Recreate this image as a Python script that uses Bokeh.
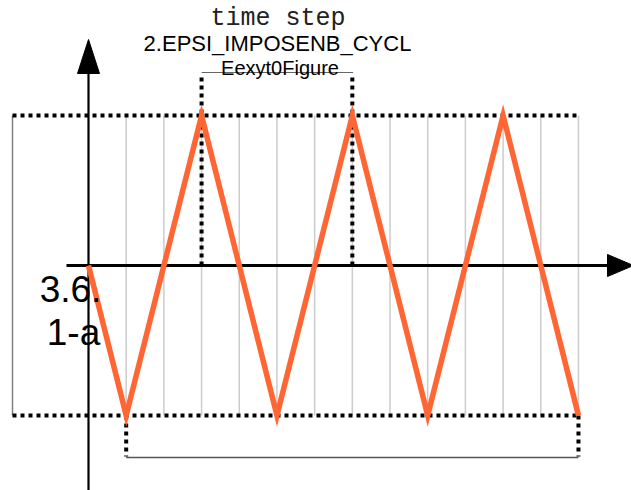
from bokeh.plotting import figure
from bokeh.models import Range1d
from bokeh.core.properties import value
from bokeh.embed import file_html
from bokeh.resources import INLINE

# ---- data ----
time_x = [0, 1, 3, 5, 7, 9, 11, 13]
strain = [0, -1, 1, -1, 1, -1, 1, -1]
grid_steps = list(range(1, 14))
title_lines = ["time step", "2.EPSI_IMPOSENB_CYCL", "Eexyt0Figure"]
side_labels = ["3.6.", "1-a"]

# ---- layout constants ----
W, H = 631, 490
OFF = 0        # page offset of the figure
PX_X = 37.69   # pixels per x unit
PX_Y = 150.0   # pixels per y unit

def xd(px):  # page pixel -> data x
    return (px - 88) / PX_X

def yd(py):  # page pixel -> data y
    return (265 - py) / PX_Y

p = figure(width=W, height=H, output_backend="svg", toolbar_location=None,
           x_range=Range1d(xd(OFF), xd(OFF + W)), y_range=Range1d(yd(OFF + H), yd(OFF)),
           x_axis_type=None, y_axis_type=None, min_border=0,
           outline_line_color=None, background_fill_color="white",
           border_fill_color="white")
p.grid.visible = False

ymin, ymax = min(strain), max(strain)
x_first, x_last = time_x[1], time_x[-1]
left_x = xd(12)

# light vertical grid lines
p.segment(x0=grid_steps, y0=[ymin] * len(grid_steps), x1=grid_steps, y1=[ymax] * len(grid_steps),
          line_color="#cccccc", line_width=1.5)
# left frame line
p.segment(x0=[left_x], y0=[ymin], x1=[left_x], y1=[ymax], line_color="#808080", line_width=1.5)

# bottom bracket solid line
p.segment(x0=[x_first], y0=[yd(457)], x1=[x_last], y1=[yd(457)], line_color="#555555", line_width=1.5)
# title underline
pk1, pk2 = time_x[2], time_x[4]
p.segment(x0=[pk1], y0=[yd(72)], x1=[pk2 + 0.02], y1=[yd(72)], line_color="#666666", line_width=1.2)

dot = dict(line_color="black", line_width=4, line_dash="4 4", line_cap="butt")
# horizontal dotted lines at max / min
p.segment(x0=[left_x, left_x], y0=[ymax, ymin], x1=[x_last, x_last], y1=[ymax, ymin], **dot)
# vertical dotted from first two peaks up to the title
p.segment(x0=[pk1, pk2], y0=[0, 0], x1=[pk1, pk2], y1=[yd(77), yd(77)], **dot)
# bottom bracket verticals
p.segment(x0=[x_first, x_last], y0=[ymin, ymin], x1=[x_first, x_last], y1=[yd(456), yd(456)], **dot)

# axes
p.segment(x0=[0], y0=[yd(OFF + H)], x1=[0], y1=[yd(73)], line_color="black", line_width=2.2)
p.patch(x=[0, -11 / PX_X, 11 / PX_X], y=[yd(39), yd(73), yd(73)], fill_color="black", line_color="black")
p.segment(x0=[xd(66)], y0=[0], x1=[xd(608)], y1=[0], line_color="black", line_width=3)
p.patch(x=[xd(OFF + W + 2), xd(607), xd(607)], y=[0, 11 / PX_Y, -11 / PX_Y],
        fill_color="black", line_color="black")

# signal
p.line(time_x, strain, line_color="#FF6633", line_width=5.5, line_join="miter")

# texts (centred vertically on the measured glyph centres)
p.text(x=[xd(277.5)], y=[yd(17.5)], text=[title_lines[0]], text_font=value("Liberation Mono"),
       text_font_size=value("25px"), text_align="center", text_baseline="middle", text_color="#222222")
p.text(x=[xd(277)], y=[yd(43)], text=[title_lines[1]], text_font=value("Liberation Sans"),
       text_font_size=value("22px"), text_align="center", text_baseline="middle", text_color="black")
p.text(x=[xd(279.5)], y=[yd(67)], text=[title_lines[2]], text_font=value("Liberation Sans"),
       text_font_size=value("20px"), text_align="center", text_baseline="middle", text_color="black")
p.text(x=[xd(70), xd(73)], y=[yd(288), yd(332)], text=side_labels, text_font=value("Liberation Sans"),
       text_font_size=value("37px"), text_align="center", text_baseline="middle", text_color="black")

open("out.html", "w").write(file_html(p, INLINE))
